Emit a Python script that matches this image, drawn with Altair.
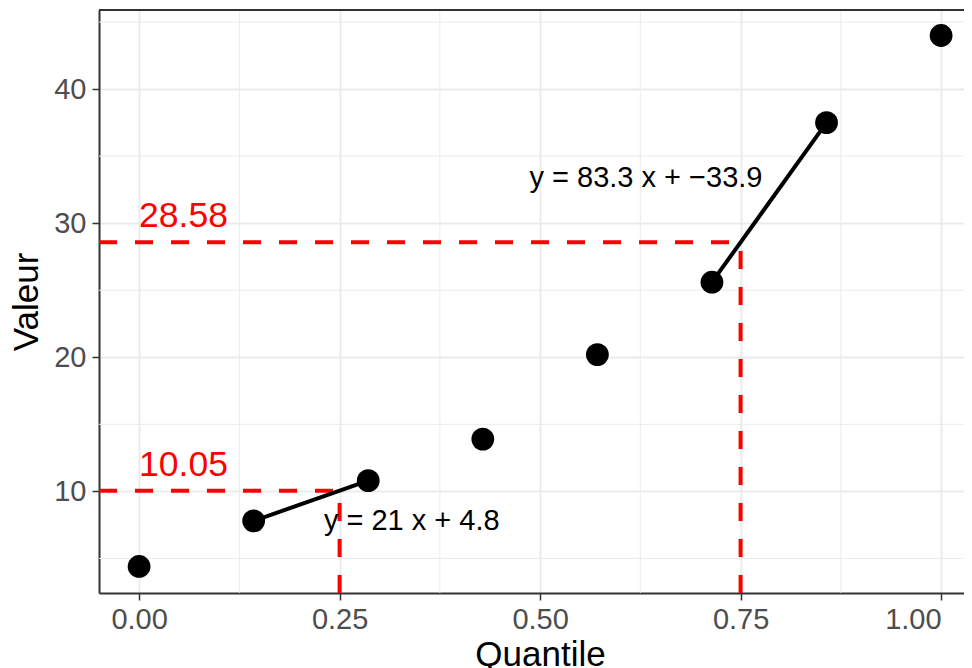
import altair as alt
import pandas as pd

# ---- data ----
quantiles = [0, 1/7, 2/7, 3/7, 4/7, 5/7, 6/7, 1]
values = [4.4, 7.8, 10.8, 13.9, 20.2, 25.6, 37.5, 44.0]
probs = [0.25, 0.75]
qvals = [10.05, 28.58]
qlabels = ["10.05", "28.58"]
seg_pairs = [(1, 2), (5, 6)]
eq_texts = ["y = 21 x + 4.8", "y = 83.3 x + \u221233.9"]
eq_x = [0.340, 0.632]
eq_y = [7.76, 33.36]
x_major = [0, 0.25, 0.5, 0.75, 1.0]
x_minor = [0.125, 0.375, 0.625, 0.875]
y_major = [10, 20, 30, 40]
y_minor = [5, 15, 25, 35, 45]

W, H = 865, 583
XDOM = [-0.05, -0.05 + W / 802]
YDOM = [2.42, 45.9]
FONT = "Liberation Sans"

xs = alt.Scale(domain=XDOM, nice=False, zero=False)
ys = alt.Scale(domain=YDOM, nice=False, zero=False)

pts = pd.DataFrame({"q": quantiles, "v": values})
segs = pd.DataFrame({
    "x0": [quantiles[a] for a, b in seg_pairs],
    "y0": [values[a] for a, b in seg_pairs],
    "x1": [quantiles[b] for a, b in seg_pairs],
    "y1": [values[b] for a, b in seg_pairs],
})
hdash = pd.DataFrame({"x0": [XDOM[0]] * len(probs), "x1": probs, "y": qvals})
vdash = pd.DataFrame({"x": probs, "y0": [YDOM[0]] * len(probs), "y1": qvals})
qlab = pd.DataFrame({"x": [0] * len(qvals), "y": qvals, "t": qlabels})
eqs = pd.DataFrame({"x": eq_x, "y": eq_y, "t": eq_texts})
xmin_df = pd.DataFrame({"x": x_minor})
ymin_df = pd.DataFrame({"y": y_minor})

xaxis = alt.Axis(values=x_major, format=".2f", title="Quantile", grid=True,
                 titleX=441, titleY=72, titleAlign="center",
                 titleBaseline="alphabetic", labelPadding=5, labelFlush=30)
yaxis = alt.Axis(values=y_major, format="d", title="Valeur", grid=True,
                 titleX=-62, titleY=H / 2, titleBaseline="alphabetic", labelPadding=6,
                 labelFlush=False)

minor_x = alt.Chart(xmin_df).mark_rule(color="#EBEBEB", strokeWidth=1).encode(
    x=alt.X("x:Q", scale=xs, axis=xaxis))
minor_y = alt.Chart(ymin_df).mark_rule(color="#EBEBEB", strokeWidth=1).encode(
    y=alt.Y("y:Q", scale=ys, axis=yaxis))

top_border = alt.Chart(pts).mark_rule(color="#333333", strokeWidth=2).encode(
    x=alt.value(0), x2=alt.value(W), y=alt.value(0))

h_lines = alt.Chart(hdash).mark_rule(color="#FF0000", strokeWidth=4, strokeDash=[18, 18]).encode(
    x=alt.X("x0:Q", scale=xs), x2="x1:Q", y=alt.Y("y:Q", scale=ys))
v_lines = alt.Chart(vdash).mark_rule(color="#FF0000", strokeWidth=4, strokeDash=[18, 18]).encode(
    x=alt.X("x:Q", scale=xs), y=alt.Y("y0:Q", scale=ys), y2="y1:Q")

seg_lines = alt.Chart(segs).mark_rule(color="black", strokeWidth=4).encode(
    x=alt.X("x0:Q", scale=xs), y=alt.Y("y0:Q", scale=ys), x2="x1:Q", y2="y1:Q")

points = alt.Chart(pts).mark_circle(size=520, color="black", opacity=1).encode(
    x=alt.X("q:Q", scale=xs), y=alt.Y("v:Q", scale=ys))

red_text = alt.Chart(qlab).mark_text(align="left", baseline="alphabetic", fontSize=35.5,
                                     color="#FF0000", font=FONT, dy=-15).encode(
    x=alt.X("x:Q", scale=xs), y=alt.Y("y:Q", scale=ys), text="t:N")

eq_text = alt.Chart(eqs).mark_text(align="center", baseline="middle", fontSize=29,
                                   color="black", font=FONT).encode(
    x=alt.X("x:Q", scale=xs), y=alt.Y("y:Q", scale=ys), text="t:N")

chart = alt.layer(
    minor_x, minor_y, h_lines, v_lines, seg_lines, points, red_text, eq_text, top_border
).properties(
    width=W, height=H,
    padding={"left": 91, "top": 2, "right": 0, "bottom": 82},
    autosize=alt.AutoSizeParams(type="none"),
    background="white",
).configure_view(
    stroke="transparent"
).configure_axis(
    labelFont=FONT, titleFont=FONT,
    labelFontSize=29, labelColor="#4D4D4D",
    titleFontSize=35, titleColor="black", titleFontWeight="normal",
    tickColor="#333333", tickSize=7, tickWidth=1.5,
    gridColor="#EBEBEB", gridWidth=2,
    domainColor="#333333", domainWidth=2,
    labelOverlap=False,
)

chart.save("out.html", embed_options={"renderer": "svg", "actions": False})
